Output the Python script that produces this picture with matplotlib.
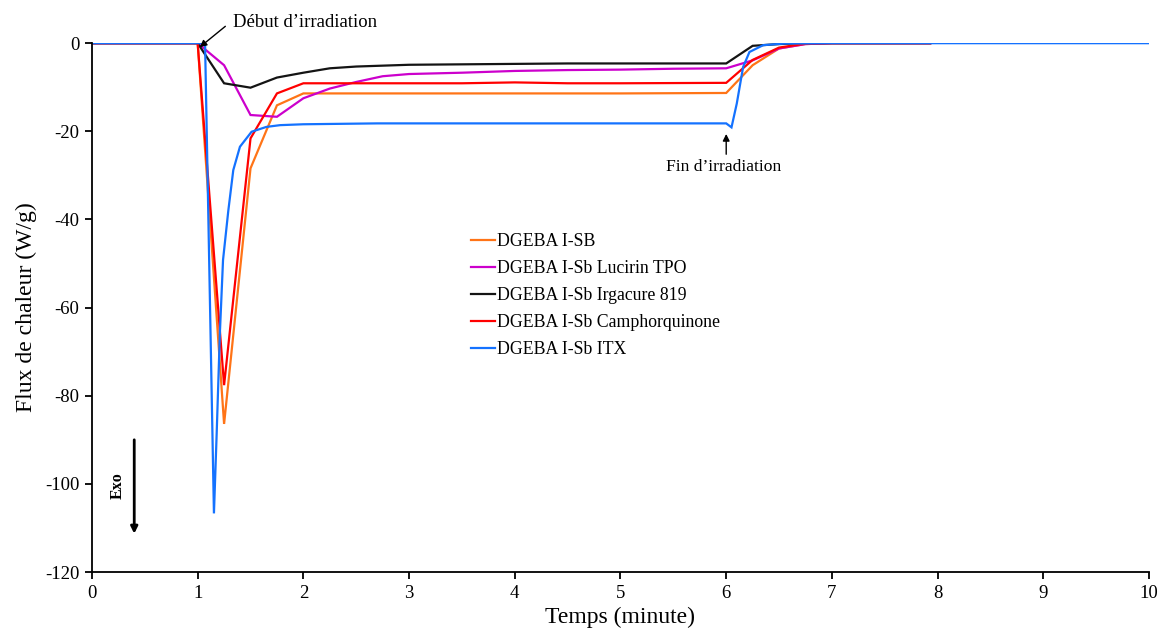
import matplotlib
matplotlib.use("Agg")
import matplotlib.pyplot as plt

plt.rcParams['font.family'] = ['Liberation Serif', 'DejaVu Serif']
plt.rcParams['axes.unicode_minus'] = False

# --- data ---
t_orange = [0, 1.0, 1.25, 1.5, 1.75, 2.0, 2.5, 3.0, 4.0, 5.0, 6.0, 6.25, 6.5, 6.75, 7.0, 7.93]
y_orange = [0, 0, -86.4, -28.4, -14.1, -11.4, -11.4, -11.4, -11.4, -11.4, -11.3, -5.0, -1.2, -0.2, 0, 0]

t_magenta = [0, 1.0, 1.25, 1.5, 1.75, 2.0, 2.25, 2.5, 2.75, 3.0, 3.5, 4.0, 4.5, 5.0, 5.5, 6.0, 6.25, 6.5, 6.75, 7.0, 7.93]
y_magenta = [0, 0, -5.0, -16.3, -16.7, -12.5, -10.3, -8.8, -7.5, -7.0, -6.7, -6.3, -6.1, -6.0, -5.8, -5.7, -3.9, -1.2, -0.2, 0, 0]

t_black = [0, 1.0, 1.25, 1.5, 1.75, 2.0, 2.25, 2.5, 2.75, 3.0, 3.5, 4.0, 4.5, 5.0, 6.0, 6.25, 6.5, 6.75, 7.0, 7.93]
y_black = [0, 0, -9.1, -10.1, -7.8, -6.7, -5.7, -5.3, -5.1, -4.9, -4.8, -4.7, -4.6, -4.6, -4.6, -0.6, -0.2, 0, 0, 0]

t_red = [0, 1.0, 1.25, 1.5, 1.75, 2.0, 2.5, 3.0, 3.5, 4.0, 4.5, 5.0, 6.0, 6.25, 6.5, 6.75, 7.0, 7.93]
y_red = [0, 0, -77.6, -21.6, -11.4, -9.1, -9.1, -9.1, -9.1, -8.9, -9.1, -9.1, -9.0, -3.8, -1.0, -0.1, 0, 0]

t_blue = [0, 1.0, 1.07, 1.154, 1.18, 1.21, 1.24, 1.29, 1.337, 1.40, 1.51, 1.65, 1.78, 2.0, 2.7, 6.0, 6.05, 6.1, 6.16, 6.22, 6.35, 6.54, 7.0, 10.0]
y_blue = [0, 0, 0, -106.7, -88.5, -65.9, -49.2, -38.0, -28.8, -23.5, -20.1, -19.0, -18.6, -18.4, -18.2, -18.2, -19.1, -13.7, -5.4, -2.0, -0.45, -0.1, 0, 0]

labels = ["DGEBA I-SB", "DGEBA I-Sb Lucirin TPO", "DGEBA I-Sb Irgacure 819",
          "DGEBA I-Sb Camphorquinone", "DGEBA I-Sb ITX"]
colors = ["#FF7417", "#CC00CC", "#141414", "#FF0000", "#1472FF"]

x_ticks = list(range(0, 11))
y_ticks = [0, -20, -40, -60, -80, -100, -120]

fig = plt.figure(figsize=(11.61, 6.35), dpi=100)
ax = fig.add_axes([0.0792, 0.0992, 0.9105, 0.8328])

series = [(t_orange, y_orange), (t_magenta, y_magenta), (t_black, y_black),
          (t_red, y_red), (t_blue, y_blue)]
for (t, y), c, lab in zip(series, colors, labels):
    ax.plot(t, y, color=c, lw=1.6, label=lab, solid_joinstyle='miter')

ax.set_xlim(0, 10)
ax.set_ylim(-120, 0)
ax.set_xticks(x_ticks)
ax.set_yticks(y_ticks)
ax.set_yticklabels([str(v) for v in y_ticks])
for s in ['top', 'right']:
    ax.spines[s].set_visible(False)
for s in ['left', 'bottom']:
    ax.spines[s].set_linewidth(1.3)
ax.tick_params(direction='out', length=5, width=1.3, labelsize=13.5, pad=4)

ax.set_xlabel("Temps (minute)", fontsize=17, labelpad=4)
ax.set_ylabel("Flux de chaleur (W/g)", fontsize=17, labelpad=6)

leg = ax.legend(loc='upper left', bbox_to_anchor=(0.359, 0.641), frameon=False,
                fontsize=12.8, handlelength=1.35, handletextpad=0.1,
                labelspacing=0.56, borderaxespad=0, borderpad=0)

# Annotations
ax.annotate("Début d\u2019irradiation", xy=(1.02, -0.9), xytext=(1.33, 4.6),
            fontsize=13.5, ha='left', va='center', annotation_clip=False,
            arrowprops=dict(arrowstyle='-|>', color='black', lw=1,
                            shrinkA=0, shrinkB=0, mutation_scale=10,
                            relpos=(-0.05, 0.3)))
ax.annotate("", xy=(6.0, -20.6), xytext=(6.0, -25.2),
            arrowprops=dict(arrowstyle='-|>', color='black', lw=1,
                            shrinkA=0, shrinkB=0, mutation_scale=10))
ax.text(5.98, -28.2, "Fin d\u2019irradiation", fontsize=12.6, ha='center', va='center')

# Exo arrow
ax.annotate("", xy=(0.4, -111.3), xytext=(0.4, -90.0),
            arrowprops=dict(arrowstyle='-|>', color='black', lw=2,
                            shrinkA=0, shrinkB=0, mutation_scale=10))
ax.text(0.24, -100.3, "Exo", fontsize=11.5, fontweight='bold', rotation=90,
        ha='center', va='center')

fig.savefig("out.png", dpi=100)
